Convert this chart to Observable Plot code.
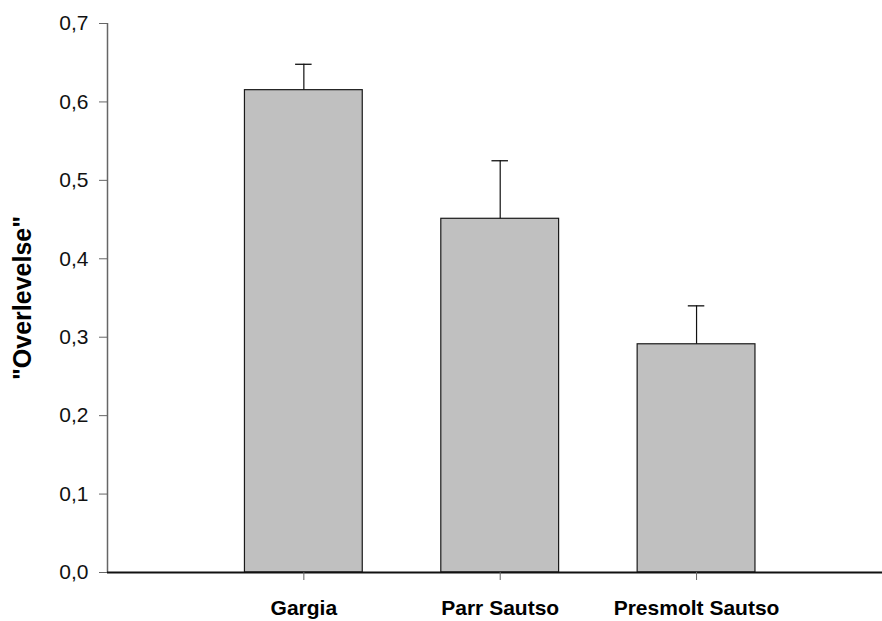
<!DOCTYPE html>
<html>
<head>
<meta charset="utf-8">
<script src="https://cdn.jsdelivr.net/npm/d3@7"></script>
<script src="https://cdn.jsdelivr.net/npm/@observablehq/plot@0.6"></script>
<style>
  html, body { margin: 0; padding: 0; background: #fff; }
  #chart svg { display: block; }
</style>
</head>
<body>
<div id="chart"></div>
<script>
// Data
const categories = ["Gargia", "Parr Sautso", "Presmolt Sautso"];
const positions = [1, 2, 3];
const values = [0.615, 0.451, 0.291];
const errors = [0.033, 0.074, 0.049];
const yTicks = [0, 0.1, 0.2, 0.3, 0.4, 0.5, 0.6, 0.7];
const yLabel = '"Overlevelse"';

const data = categories.map((c, i) => ({
  category: c, pos: positions[i], value: values[i], err: errors[i]
}));

const barHalf = 0.3;
const capHalf = 0.042;
const fmt = v => v.toFixed(1).replace(".", ",");

const plot = Plot.plot({
  width: 882,
  height: 621,
  marginLeft: 107,
  marginRight: 0,
  marginTop: 23,
  marginBottom: 49,
  style: { fontFamily: "'Liberation Sans', Arial, sans-serif", background: "#fff", color: "#000" },
  x: { type: "linear", domain: [0, 3.947] },
  y: { domain: [0, 0.7] },
  marks: [
    Plot.rectY(data, {
      x1: d => d.pos - barHalf, x2: d => d.pos + barHalf, y1: 0, y2: "value",
      fill: "#c0c0c0", stroke: "#1a1a1a", strokeWidth: 1.2
    }),
    Plot.ruleX(data, {x: "pos", y1: "value", y2: d => d.value + d.err, stroke: "#111", strokeWidth: 1.2}),
    Plot.ruleY(data, {x1: d => d.pos - capHalf, x2: d => d.pos + capHalf, y: d => d.value + d.err, stroke: "#111", strokeWidth: 1.3}),
    Plot.ruleX([0], {stroke: "#666", strokeWidth: 1.5}),
    Plot.ruleY([0], {stroke: "#111", strokeWidth: 2}),
    Plot.axisY({
      ticks: yTicks, tickFormat: fmt, tickSize: 8, tickPadding: 11,
      fontSize: 21, stroke: "#666", fill: "#111", label: null
    }),
    Plot.axisX({
      ticks: positions, tickFormat: p => categories[positions.indexOf(p)],
      tickSize: 8, tickPadding: 20, fontSize: 21, fontWeight: "bold",
      stroke: "#666", fill: "#000", label: null
    }),
    Plot.text([yLabel], {
      frameAnchor: "left", dx: -85, rotate: -90, text: d => d,
      fontSize: 25, fontWeight: "bold", fill: "#000", textAnchor: "middle", lineAnchor: "middle"
    })
  ]
});
document.getElementById("chart").appendChild(plot);
</script>
</body>
</html>
